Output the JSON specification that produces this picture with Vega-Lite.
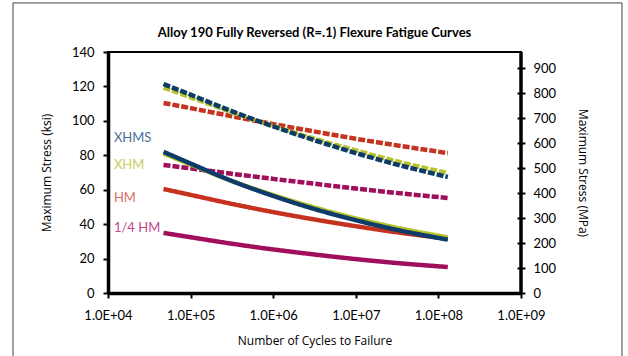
{
  "$schema": "https://vega.github.io/schema/vega-lite/v6.json",
  "width": 413,
  "height": 241,
  "autosize": {"type": "none"},
  "padding": {"left": 108, "top": 52, "right": 107, "bottom": 63},
  "background": "white",
  "config": {
    "view": {"stroke": "black", "strokeWidth": 2},
    "axis": {
      "labelFont": "Lato", "labelFontSize": 13, "labelColor": "black",
      "titleFont": "Open Sans", "titleFontSize": 12, "titleFontWeight": "normal", "titleColor": "black",
      "domainColor": "black", "domainWidth": 3.5, "tickColor": "black", "tickWidth": 2, "tickSize": 5,
      "grid": false, "labelOverlap": false, "labelFlush": false
    }
  },
  "title": {
    "text": "Alloy 190 Fully Reversed (R=.1) Flexure Fatigue Curves",
    "font": "Lato", "fontSize": 13, "fontWeight": "bold", "color": "black",
    "anchor": "middle", "frame": "group", "offset": -38
  },
  "datasets": {
    "curves": [
      {"material": "1/4 HM", "kind": "solid", "n": 47000, "ksi": 34.9},
      {"material": "1/4 HM", "kind": "solid", "n": 100000, "ksi": 32.4},
      {"material": "1/4 HM", "kind": "solid", "n": 300000, "ksi": 28.8},
      {"material": "1/4 HM", "kind": "solid", "n": 1000000, "ksi": 25.3},
      {"material": "1/4 HM", "kind": "solid", "n": 3000000, "ksi": 22.5},
      {"material": "1/4 HM", "kind": "solid", "n": 10000000, "ksi": 19.7},
      {"material": "1/4 HM", "kind": "solid", "n": 30000000, "ksi": 17.5},
      {"material": "1/4 HM", "kind": "solid", "n": 130000000, "ksi": 15.1},
      {"material": "1/4 HM", "kind": "dashed", "n": 47000, "ksi": 74.4},
      {"material": "1/4 HM", "kind": "dashed", "n": 100000, "ksi": 72.4},
      {"material": "1/4 HM", "kind": "dashed", "n": 300000, "ksi": 69.4},
      {"material": "1/4 HM", "kind": "dashed", "n": 1000000, "ksi": 66.3},
      {"material": "1/4 HM", "kind": "dashed", "n": 3000000, "ksi": 63.6},
      {"material": "1/4 HM", "kind": "dashed", "n": 10000000, "ksi": 60.7},
      {"material": "1/4 HM", "kind": "dashed", "n": 30000000, "ksi": 58.2},
      {"material": "1/4 HM", "kind": "dashed", "n": 130000000, "ksi": 55.2},
      {"material": "HM", "kind": "solid", "n": 47000, "ksi": 60.4},
      {"material": "HM", "kind": "solid", "n": 100000, "ksi": 57.0},
      {"material": "HM", "kind": "solid", "n": 300000, "ksi": 52.0},
      {"material": "HM", "kind": "solid", "n": 1000000, "ksi": 47.0},
      {"material": "HM", "kind": "solid", "n": 3000000, "ksi": 42.9},
      {"material": "HM", "kind": "solid", "n": 10000000, "ksi": 38.8},
      {"material": "HM", "kind": "solid", "n": 30000000, "ksi": 35.4},
      {"material": "HM", "kind": "solid", "n": 130000000, "ksi": 31.5},
      {"material": "HM", "kind": "dashed", "n": 47000, "ksi": 110.4},
      {"material": "HM", "kind": "dashed", "n": 100000, "ksi": 107.4},
      {"material": "HM", "kind": "dashed", "n": 300000, "ksi": 102.9},
      {"material": "HM", "kind": "dashed", "n": 1000000, "ksi": 98.1},
      {"material": "HM", "kind": "dashed", "n": 3000000, "ksi": 94.0},
      {"material": "HM", "kind": "dashed", "n": 10000000, "ksi": 89.6},
      {"material": "HM", "kind": "dashed", "n": 30000000, "ksi": 85.9},
      {"material": "HM", "kind": "dashed", "n": 130000000, "ksi": 81.3},
      {"material": "XHM", "kind": "solid", "n": 47000, "ksi": 81.0},
      {"material": "XHM", "kind": "solid", "n": 100000, "ksi": 74.7},
      {"material": "XHM", "kind": "solid", "n": 300000, "ksi": 65.5},
      {"material": "XHM", "kind": "solid", "n": 1000000, "ksi": 56.9},
      {"material": "XHM", "kind": "solid", "n": 3000000, "ksi": 50.0},
      {"material": "XHM", "kind": "solid", "n": 10000000, "ksi": 43.3},
      {"material": "XHM", "kind": "solid", "n": 30000000, "ksi": 38.1},
      {"material": "XHM", "kind": "solid", "n": 130000000, "ksi": 32.3},
      {"material": "XHM", "kind": "dashed", "n": 47000, "ksi": 119.3},
      {"material": "XHM", "kind": "dashed", "n": 100000, "ksi": 113.7},
      {"material": "XHM", "kind": "dashed", "n": 300000, "ksi": 105.4},
      {"material": "XHM", "kind": "dashed", "n": 1000000, "ksi": 97.0},
      {"material": "XHM", "kind": "dashed", "n": 3000000, "ksi": 89.9},
      {"material": "XHM", "kind": "dashed", "n": 10000000, "ksi": 82.8},
      {"material": "XHM", "kind": "dashed", "n": 30000000, "ksi": 76.7},
      {"material": "XHM", "kind": "dashed", "n": 130000000, "ksi": 69.7},
      {"material": "XHMS", "kind": "solid", "n": 47000, "ksi": 82.0},
      {"material": "XHMS", "kind": "solid", "n": 100000, "ksi": 75.2},
      {"material": "XHMS", "kind": "solid", "n": 300000, "ksi": 65.5},
      {"material": "XHMS", "kind": "solid", "n": 1000000, "ksi": 56.4},
      {"material": "XHMS", "kind": "solid", "n": 3000000, "ksi": 49.1},
      {"material": "XHMS", "kind": "solid", "n": 10000000, "ksi": 42.3},
      {"material": "XHMS", "kind": "solid", "n": 30000000, "ksi": 36.9},
      {"material": "XHMS", "kind": "solid", "n": 130000000, "ksi": 31.0},
      {"material": "XHMS", "kind": "dashed", "n": 47000, "ksi": 121.4},
      {"material": "XHMS", "kind": "dashed", "n": 100000, "ksi": 115.2},
      {"material": "XHMS", "kind": "dashed", "n": 300000, "ksi": 106.0},
      {"material": "XHMS", "kind": "dashed", "n": 1000000, "ksi": 96.8},
      {"material": "XHMS", "kind": "dashed", "n": 3000000, "ksi": 89.1},
      {"material": "XHMS", "kind": "dashed", "n": 10000000, "ksi": 81.3},
      {"material": "XHMS", "kind": "dashed", "n": 30000000, "ksi": 74.9},
      {"material": "XHMS", "kind": "dashed", "n": 130000000, "ksi": 67.4}
    ],
    "labels": [
      {"material": "XHMS", "n": 11800, "ksi": 90.0},
      {"material": "XHM", "n": 11800, "ksi": 74.4},
      {"material": "HM", "n": 11800, "ksi": 55.2},
      {"material": "1/4 HM", "n": 11800, "ksi": 37.8}
    ]
  },
  "layer": [
    {
      "data": {"name": "curves"},
      "mark": {"type": "line", "interpolate": "monotone", "strokeWidth": 4.5, "strokeCap": "butt"},
      "encoding": {
        "x": {
          "field": "n", "type": "quantitative",
          "scale": {"type": "log", "domain": [10000, 1000000000], "nice": false},
          "axis": {
            "values": [10000, 100000, 1000000, 10000000, 100000000, 1000000000],
            "labelExpr": "'1.0E+0' + round(log(datum.value)/LN10)",
            "title": "Number of Cycles to Failure",
            "labelPadding": 11, "titlePadding": 13
          }
        },
        "y": {
          "field": "ksi", "type": "quantitative",
          "scale": {"domain": [0, 140], "nice": false},
          "axis": {
            "orient": "left",
            "values": [0, 20, 40, 60, 80, 100, 120, 140],
            "labelOverlap": false,
            "title": "Maximum Stress (ksi)",
            "labelPadding": 9, "titlePadding": 18
          }
        },
        "color": {
          "field": "material", "type": "nominal",
          "scale": {"domain": ["XHMS", "XHM", "HM", "1/4 HM"], "range": ["#0d3c6a", "#b6c32a", "#c5321f", "#a00f5c"]},
          "legend": null
        },
        "strokeDash": {
          "field": "kind", "type": "nominal",
          "scale": {"domain": ["solid", "dashed"], "range": [[1, 0], [7, 2]]},
          "legend": null
        }
      }
    },
    {
      "data": {"values": [{}]},
      "mark": {"type": "rect", "fillOpacity": 0, "stroke": "#404040", "strokeWidth": 1},
      "encoding": {
        "x": {"datum": 708, "type": "quantitative"},
        "x2": {"datum": 16700000000},
        "y": {"datum": 168.5, "type": "quantitative", "axis": null},
        "y2": {"datum": -40}
      }
    },
    {
      "data": {"values": [{}]},
      "mark": {"type": "rule", "color": "black", "strokeWidth": 3.5},
      "encoding": {"x": {"datum": 1000000000, "type": "quantitative"}}
    },
    {
      "data": {"name": "labels"},
      "mark": {"type": "text", "font": "Lato", "fontSize": 13, "align": "left", "baseline": "middle"},
      "encoding": {
        "x": {"field": "n", "type": "quantitative"},
        "y": {"field": "ksi", "type": "quantitative", "axis": null},
        "text": {"field": "material"},
        "fill": {
          "field": "material", "type": "nominal",
          "scale": {"domain": ["XHMS", "XHM", "HM", "1/4 HM"], "range": ["#4a6e99", "#c6cf5c", "#d96e66", "#c2468c"]},
          "legend": null
        }
      }
    },
    {
      "data": {"values": [{}]},
      "mark": {"type": "rule", "opacity": 0},
      "encoding": {
        "y": {
          "datum": 0, "type": "quantitative",
          "axis": {
            "orient": "right",
            "values": [0, 14.5038, 29.0075, 43.5113, 58.0151, 72.5189, 87.0226, 101.5264, 116.0302, 130.5340],
            "labelExpr": "format(round(datum.value * 6.894757), 'd')",
            "labelOverlap": false,
            "title": "Maximum Stress (MPa)",
            "domain": false, "offset": -4, "tickSize": 8,
            "labelPadding": 8, "titlePadding": 20
          }
        }
      }
    }
  ],
  "resolve": {"axis": {"y": "independent"}}
}
